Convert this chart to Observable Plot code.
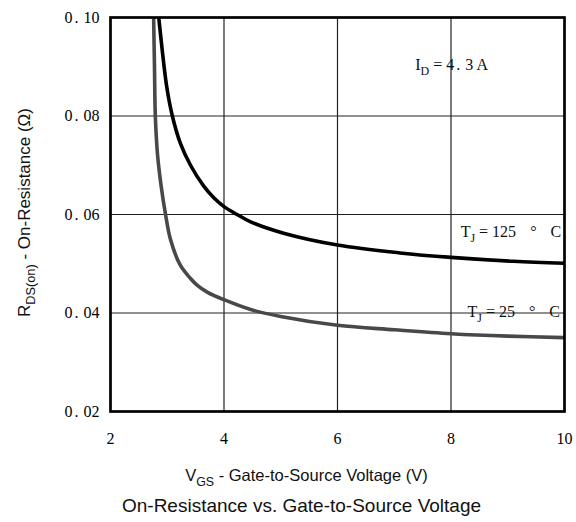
<!DOCTYPE html>
<html>
<head>
<meta charset="utf-8">
<script src="https://cdn.jsdelivr.net/npm/d3@7"></script>
<script src="https://cdn.jsdelivr.net/npm/@observablehq/plot@0.6"></script>
<style>
  html, body { margin: 0; padding: 0; background: white; }
</style>
</head>
<body>
<div id="chart"></div>
<script>
// ---- data ----
const xTicks = [2, 4, 6, 8, 10];
const xTickLabels = ["2", "4", "6", "8", "10"];
const yTicks = [0.02, 0.04, 0.06, 0.08, 0.10];
const yTickLabels = ["0.02", "0.04", "0.06", "0.08", "0.10"];
const xGrid = [4, 6, 8];
const yGrid = [0.04, 0.06, 0.08];

// T_J = 125 °C
const vgs125 = [2.85, 2.92, 2.99, 3.09, 3.23, 3.41, 3.64, 3.82, 4.0, 4.23, 4.47, 5.05, 6.0, 7.1, 8.0, 9.1, 10];
const rds125 = [0.100, 0.0925, 0.086, 0.080, 0.0745, 0.0700, 0.0658, 0.0634, 0.0616, 0.0600, 0.0585, 0.0562, 0.0538, 0.0522, 0.0513, 0.0505, 0.0501];

// T_J = 25 °C
const vgs25 = [2.76, 2.775, 2.79, 2.83, 2.89, 2.97, 3.06, 3.23, 3.41, 3.53, 3.71, 4.0, 4.47, 5.0, 6.0, 7.0, 8.0, 9.0, 10];
const rds25 = [0.100, 0.090, 0.080, 0.072, 0.066, 0.060, 0.0548, 0.0497, 0.0470, 0.0456, 0.0442, 0.0427, 0.0407, 0.0393, 0.0375, 0.0366, 0.0358, 0.0353, 0.0350];

const noteText = ["I_{D} = 4.3 A", "T_{J} = 125 ° C", "T_{J} = 25 ° C"];
const noteX = [7.37, 8.17, 8.29];
const noteY = [0.0903, 0.0565, 0.0402];

const xLabel = "V_{GS} - Gate-to-Source Voltage (V)";
const yLabel = "R_{DS(on)} - On-Resistance (Ω)";
const title = "On-Resistance vs. Gate-to-Source Voltage";

// ---- tables ----
const s125 = vgs125.map((v, i) => ({v, r: rds125[i]}));
const s25 = vgs25.map((v, i) => ({v, r: rds25[i]}));
const notes = noteText.map((t, i) => ({t, x: noteX[i], y: noteY[i]}));

const serif = "'Liberation Serif', 'DejaVu Serif', serif";
const sans = "'Liberation Sans', Arial, sans-serif";

const plot = Plot.plot({
  width: 576,
  height: 522,
  marginLeft: 110,
  marginRight: 12,
  marginTop: 17,
  marginBottom: 111,
  x: {domain: [2, 10]},
  y: {domain: [0.02, 0.10]},
  style: {background: "white", color: "black", fontFamily: serif, fontSize: "16px"},
  marks: [
    Plot.gridX(xGrid, {stroke: "#222", strokeOpacity: 1, strokeWidth: 1.2}),
    Plot.gridY(yGrid, {stroke: "#222", strokeOpacity: 1, strokeWidth: 1.2}),
    Plot.line(s25, {x: "v", y: "r", stroke: "#484848", strokeWidth: 3.6, curve: "catmull-rom", clip: true}),
    Plot.line(s125, {x: "v", y: "r", stroke: "#000", strokeWidth: 3.6, curve: "catmull-rom", clip: true}),
    Plot.text(notes, {x: "x", y: "y", text: "t", textAnchor: "start", lineAnchor: "middle",
      fill: "#111", fontSize: 16, fontFamily: serif, ariaLabel: "note"}),
    Plot.frame({stroke: "#000", strokeWidth: 2.7}),
    Plot.axisX(xTicks, {tickSize: 0, tickPadding: 21, label: null, fontSize: 16, fontFamily: serif,
      tickFormat: d => xTickLabels[xTicks.indexOf(d)]}),
    Plot.axisY(yTicks, {tickSize: 0, tickPadding: 11, label: null, fontSize: 16, fontFamily: serif,
      tickFormat: d => yTickLabels[yTicks.indexOf(d)]}),
    Plot.text([xLabel], {frameAnchor: "bottom", dy: 64, dx: -31, textAnchor: "middle", lineAnchor: "middle",
      fontFamily: sans, fontSize: 16.5, fill: "#111"}),
    Plot.text([title], {frameAnchor: "bottom", dy: 94, dx: -36, textAnchor: "middle", lineAnchor: "middle",
      fontFamily: sans, fontSize: 19, fill: "#111"}),
    Plot.text([yLabel], {frameAnchor: "left", dx: -86, dy: -2, rotate: -90, textAnchor: "middle", lineAnchor: "middle",
      fontFamily: sans, fontSize: 17, fill: "#111"})
  ]
});

document.getElementById("chart").appendChild(plot);

// text rendering: "_{...}" -> lowered smaller tspan; digit.digit -> wide period as in the original font;
// the T_J notes get the wider gaps around the degree sign of the original font
const NS = "http://www.w3.org/2000/svg";
plot.querySelectorAll("text").forEach(t => {
  const s = t.textContent;
  const hasSub = s.includes("_{");
  const hasDot = /\d\.\d/.test(s);
  if (!hasSub && !hasDot) return;
  const wordGap = /^T_\{/.test(s) ? 10 : 0;
  const fs = parseFloat(getComputedStyle(t).fontSize) || 16;
  const shift = +(fs * 0.3).toFixed(2);
  t.textContent = "";
  let lowered = false;
  const add = (str, sub, dx) => {
    const ts = document.createElementNS(NS, "tspan");
    ts.textContent = str;
    if (dx) ts.setAttribute("dx", dx);
    if (sub) {
      ts.setAttribute("font-size", (fs * 0.75).toFixed(2));
      if (!lowered) ts.setAttribute("dy", shift);
      lowered = true;
    } else if (lowered) {
      ts.setAttribute("dy", -shift);
      lowered = false;
    }
    t.appendChild(ts);
  };
  const addPlain = str => {
    const words = wordGap ? str.split(/(?<=[^\s=] )/) : [str];
    words.forEach((w, wi) => {
      const parts = w.split(/(?<=\d)\.(?=\d)/);
      parts.forEach((p, i) => {
        if (i === 0) add(p, false, wi > 0 ? wordGap : 0);
        else { add(".", false, 2); add(p, false, 5); }
      });
    });
  };
  const re = /_\{([^}]*)\}/g;
  let last = 0, m;
  while ((m = re.exec(s))) {
    if (m.index > last) addPlain(s.slice(last, m.index));
    add(m[1], true, 0);
    last = re.lastIndex;
  }
  if (last < s.length) addPlain(s.slice(last));
});

// white box behind each note, as in the original (covers the grid lines)
plot.querySelectorAll('g[aria-label="note"] text').forEach(t => {
  const b = t.getBBox();
  const r = document.createElementNS(NS, "rect");
  r.setAttribute("x", b.x - 4);
  r.setAttribute("y", b.y - 1);
  r.setAttribute("width", b.width + 4);
  r.setAttribute("height", b.height + 2);
  r.setAttribute("fill", "white");
  const tr = t.getAttribute("transform");
  if (tr) r.setAttribute("transform", tr);
  t.parentNode.insertBefore(r, t);
});
</script>
</body>
</html>
